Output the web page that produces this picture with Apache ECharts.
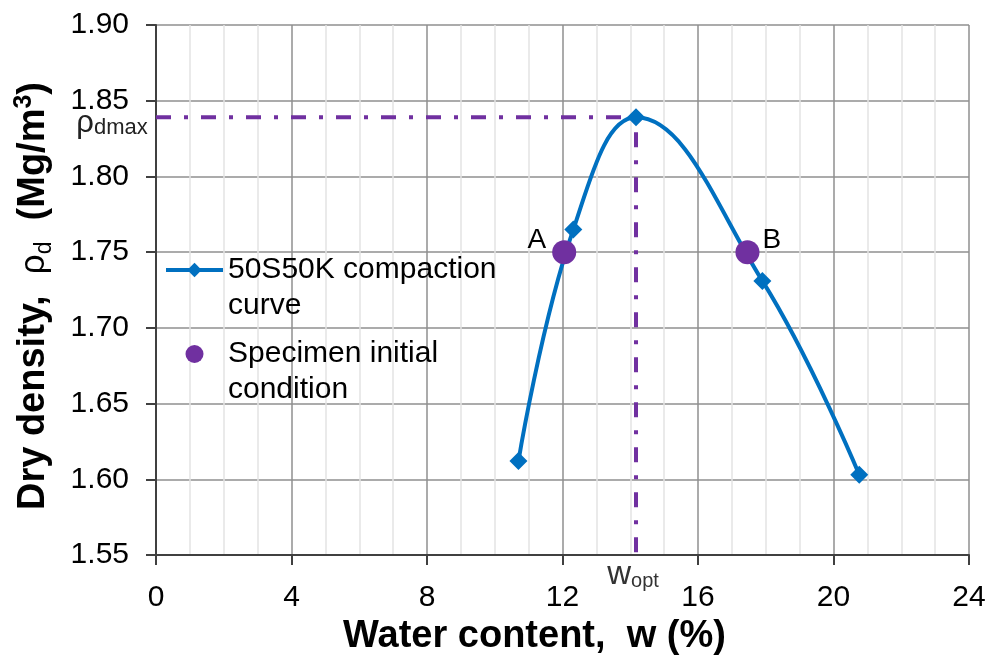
<!DOCTYPE html>
<html>
<head>
<meta charset="utf-8">
<script src="https://cdn.jsdelivr.net/npm/echarts@6/dist/echarts.min.js"></script>
<style>
  html, body { margin: 0; padding: 0; background: #fff; }
  #chart { width: 989px; height: 666px; }
</style>
</head>
<body>
<div id="chart"></div>
<script>
// Compaction curve of the 50S50K mix: water content (%) vs dry density (Mg/m3)
const curveW   = [10.7, 12.32, 14.17, 17.9, 20.76];
const curveRho = [1.612, 1.765, 1.839, 1.731, 1.603];

// Specimen initial conditions (A: dry of optimum, B: wet of optimum)
const specNames = ['A', 'B'];
const specW     = [12.05, 17.46];
const specRho   = [1.75, 1.75];

// Optimum point (peak of the compaction curve)
const wOpt    = 14.17;
const rhoDmax = 1.839;

// Axis ranges and tick spacing
const xRange = [0, 24, 4];
const yRange = [1.55, 1.90, 0.05];

const FONT = 'Liberation Sans, Arial, sans-serif';
const BLUE = '#0070C0';
const PURPLE = '#7030A0';

const curveData = curveW.map((w, i) => [w, curveRho[i]]);
const specData = specW.map((w, i) => ({
  value: [w, specRho[i]],
  label: {
    show: true,
    formatter: specNames[i],
    position: i === 0 ? 'left' : 'right',
    distance: i === 0 ? 6 : 3,
    offset: [0, -12],
    fontSize: 28,
    color: '#000',
    fontFamily: FONT
  }
}));

const guideData = [
  {
    value: [xRange[0], rhoDmax],
    label: {
      show: true,
      position: 'left',
      distance: 8,
      offset: [0, 6],
      formatter: '{r|ρ}{s|dmax}',
      rich: {
        r: { fontSize: 31, fontFamily: FONT, color: '#222', lineHeight: 32 },
        s: { fontSize: 22, fontFamily: FONT, color: '#222', verticalAlign: 'bottom', lineHeight: 32, padding: [10, 0, 0, 0] }
      }
    }
  },
  { value: [wOpt, rhoDmax] },
  {
    value: [wOpt, yRange[0]],
    label: {
      show: true,
      position: 'bottom',
      distance: 4,
      offset: [-3, 0],
      formatter: '{w|w}{s|opt}',
      rich: {
        w: { fontSize: 33, fontFamily: FONT, color: '#333', lineHeight: 32 },
        s: { fontSize: 20, fontFamily: FONT, color: '#333', verticalAlign: 'bottom', lineHeight: 32, padding: [8, 0, 0, 0] }
      }
    }
  }
];

const chart = echarts.init(document.getElementById('chart'), null, { renderer: 'canvas' });

chart.setOption({
  backgroundColor: '#ffffff',
  animation: false,
  grid: { left: 156, top: 25, right: 20, bottom: 111, containLabel: false },
  legend: {
    orient: 'vertical',
    left: 159,
    top: 211,
    itemGap: -24,
    itemWidth: 57,
    itemHeight: 18,
    data: ['50S50K compaction curve', 'Specimen initial condition'],
    formatter: name => name === '50S50K compaction curve'
      ? '\n50S50K compaction\ncurve'
      : '\nSpecimen initial\ncondition',
    lineStyle: { width: 4 },
    textStyle: {
      fontSize: 30,
      fontFamily: FONT,
      color: '#000',
      lineHeight: 36
    }
  },
  xAxis: {
    type: 'value',
    min: xRange[0],
    max: xRange[1],
    interval: xRange[2],
    name: 'Water content,  w (%)',
    nameLocation: 'middle',
    nameGap: 63,
    nameTextStyle: {
      fontSize: 38,
      fontWeight: 'bold',
      fontFamily: FONT,
      color: '#000',
      padding: [0, 56, 0, 0]
    },
    axisLine: { show: true, onZero: false, lineStyle: { color: '#404040', width: 2 } },
    axisTick: { show: true, inside: false, length: 10, lineStyle: { color: '#404040', width: 2 } },
    axisLabel: { fontSize: 30, fontFamily: FONT, color: '#000', margin: 28 },
    splitLine: { show: true, lineStyle: { color: '#8f8f8f', width: 1.5 } },
    minorTick: { show: false, splitNumber: 4 },
    minorSplitLine: { show: true, lineStyle: { color: '#e3e3e3', width: 1.5 } }
  },
  yAxis: {
    type: 'value',
    min: yRange[0],
    max: yRange[1],
    interval: yRange[2],
    name: '{b|Dry density,  }{r|ρ}{s|d}{b|  (Mg/m}{p|3}{b|)}',
    nameLocation: 'middle',
    nameGap: 100,
    nameTextStyle: {
      padding: [0, 12, 0, 0],
      rich: {
        b: { fontSize: 38, fontWeight: 'bold', fontFamily: FONT, color: '#000', lineHeight: 44 },
        r: { fontSize: 35, fontFamily: FONT, color: '#000', lineHeight: 44 },
        s: { fontSize: 23, fontFamily: FONT, color: '#000', lineHeight: 44, verticalAlign: 'bottom', padding: [12, 0, 0, 0] },
        p: { fontSize: 25, fontWeight: 'bold', fontFamily: FONT, color: '#000', lineHeight: 44, verticalAlign: 'top', padding: [0, 0, 10, 0] }
      }
    },
    axisLine: { show: true, onZero: false, lineStyle: { color: '#404040', width: 2 } },
    axisTick: { show: true, inside: false, length: 10, lineStyle: { color: '#404040', width: 2 } },
    axisLabel: {
      fontSize: 30, fontFamily: FONT, color: '#000', margin: 27,
      formatter: v => v.toFixed(2)
    },
    splitLine: { show: true, lineStyle: { color: '#8f8f8f', width: 1.5 } }
  },
  series: [
    {
      name: 'guide',
      type: 'line',
      data: guideData,
      symbol: 'circle',
      symbolSize: 0.5,
      showSymbol: true,
      clip: false,
      z: 2,
      itemStyle: { color: PURPLE },
      lineStyle: { color: PURPLE, width: 4, type: [15, 13, 4, 13] },
      silent: true
    },
    {
      name: '50S50K compaction curve',
      type: 'line',
      data: curveData,
      smooth: 0.42,
      symbol: 'diamond',
      symbolSize: 18,
      z: 3,
      itemStyle: { color: BLUE },
      lineStyle: { color: BLUE, width: 4 }
    },
    {
      name: 'Specimen initial condition',
      type: 'scatter',
      data: specData,
      symbol: 'circle',
      symbolSize: 24,
      z: 4,
      itemStyle: { color: PURPLE, opacity: 1 }
    }
  ]
});
</script>
</body>
</html>
